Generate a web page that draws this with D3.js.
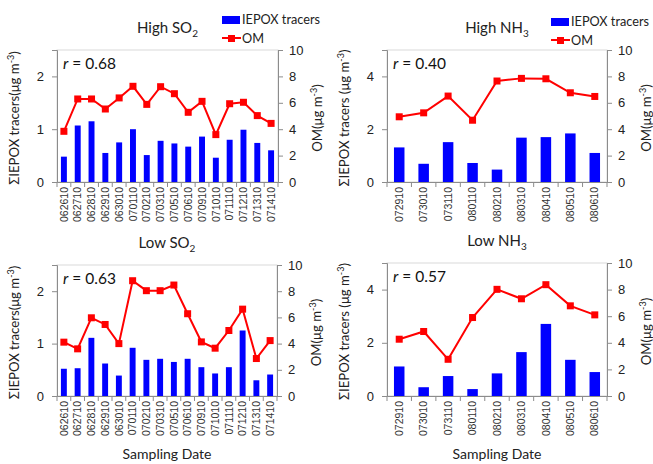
<!DOCTYPE html>
<html>
<head>
<meta charset="utf-8">
<script src="https://cdn.jsdelivr.net/npm/d3@7"></script>
<style>
  html, body { margin: 0; padding: 0; background: #fff; }
  svg { display: block; font-family: Lato, "Noto Sans", sans-serif; }
</style>
</head>
<body>
<svg id="chart" width="653" height="464"></svg>
<script>
// ---- data ----
const datesSO2 = ["062610","062710","062810","062910","063010","070110","070210","070310","070510","070610","070910","071010","071110","071210","071310","071410"];
const datesNH3 = ["072910","073010","073110","080110","080210","080310","080410","080510","080610"];

const highSO2Iepox = [0.48,1.07,1.15,0.55,0.75,1.00,0.51,0.78,0.73,0.67,0.86,0.46,0.80,0.99,0.74,0.60];
const highSO2OM    = [3.84,6.29,6.29,5.53,6.37,7.25,5.88,7.22,6.69,5.28,6.11,3.59,5.93,6.04,5.03,4.44];
const lowSO2Iepox  = [0.52,0.53,1.11,0.62,0.39,0.92,0.69,0.71,0.65,0.71,0.55,0.43,0.55,1.25,0.30,0.41];
const lowSO2OM     = [4.11,3.60,5.97,5.46,4.00,8.80,8.04,8.04,8.47,6.28,4.13,3.65,5.00,6.63,2.86,4.23];
const highNH3Iepox = [1.31,0.69,1.51,0.72,0.47,1.68,1.70,1.84,1.10];
const highNH3OM    = [4.94,5.24,6.51,4.68,7.65,7.85,7.82,6.76,6.48];
const lowNH3Iepox  = [1.11,0.33,0.75,0.26,0.85,1.65,2.71,1.36,0.90];
const lowNH3OM     = [4.27,4.85,2.76,5.90,8.02,7.31,8.37,6.78,6.10];

const so2Ticks = [0, 1, 2];
const nh3Ticks = [0, 2, 4];
const omTicks  = [0, 2, 4, 6, 8, 10];

const panels = [
  { title: "High SO", sub: "2", r: "0.68", cats: datesSO2, bars: highSO2Iepox, om: highSO2OM, yMax: 2.5, yTicks: so2Ticks,
    x0: 57, x1: 278, y0: 50, y1: 182, legend: true, legY: 0, yLabelSpace: "", xLabel: false, titleY: 33 },
  { title: "High NH", sub: "3", r: "0.40", cats: datesNH3, bars: highNH3Iepox, om: highNH3OM, yMax: 5, yTicks: nh3Ticks,
    x0: 387, x1: 607, y0: 50, y1: 182, legend: true, legY: 2, yLabelSpace: " ", xLabel: false, titleY: 33 },
  { title: "Low SO", sub: "2", r: "0.63", cats: datesSO2, bars: lowSO2Iepox, om: lowSO2OM, yMax: 2.5, yTicks: so2Ticks,
    x0: 57, x1: 277, y0: 265, y1: 396, legend: false, legY: 0, yLabelSpace: "", xLabel: true, titleY: 248 },
  { title: "Low NH", sub: "3", r: "0.57", cats: datesNH3, bars: lowNH3Iepox, om: lowNH3OM, yMax: 5, yTicks: nh3Ticks,
    x0: 387, x1: 607, y0: 263, y1: 396, legend: false, legY: 0, yLabelSpace: " ", xLabel: true, titleY: 246 }
];

const svg = d3.select("#chart");
const textCol = "#222";
const axisCol = "#8c8c8c";
const gridCol = "#d9d9d9";

// shrink a text's font so that its length fits a target width
function fit(sel, target) {
  const n = sel.node();
  const len = n.getComputedTextLength();
  if (len > target) {
    const fs = parseFloat(sel.attr("font-size"));
    sel.attr("font-size", (fs * target / len).toFixed(2));
  }
  return sel;
}

panels.forEach(p => {
  const g = svg.append("g");
  const x = d3.scaleBand().domain(p.cats).range([p.x0, p.x1]).paddingInner(0.57).paddingOuter(0.285);
  const xb = d3.scaleBand().domain(p.cats).range([p.x0, p.x1]);
  const yL = d3.scaleLinear().domain([0, p.yMax]).range([p.y1, p.y0]);
  const yR = d3.scaleLinear().domain([0, 10]).range([p.y1, p.y0]);

  // plot border
  g.append("rect").attr("x", p.x0).attr("y", p.y0).attr("width", p.x1 - p.x0).attr("height", p.y1 - p.y0)
    .attr("fill", "none").attr("stroke", gridCol).attr("stroke-width", 1);

  // bars
  g.selectAll("rect.bar").data(p.bars).enter().append("rect")
    .attr("class", "bar")
    .attr("x", (d, i) => x(p.cats[i]))
    .attr("width", x.bandwidth())
    .attr("y", d => yL(d))
    .attr("height", d => yL(0) - yL(d))
    .attr("fill", "#0000ff");

  // OM line
  const line = d3.line().x((d, i) => xb(p.cats[i]) + xb.bandwidth() / 2).y(d => yR(d));
  g.append("path").datum(p.om).attr("d", line).attr("fill", "none").attr("stroke", "#ff0000").attr("stroke-width", 2);
  g.selectAll("rect.mk").data(p.om).enter().append("rect")
    .attr("class", "mk")
    .attr("x", (d, i) => xb(p.cats[i]) + xb.bandwidth() / 2 - 3.5)
    .attr("y", d => yR(d) - 3.5)
    .attr("width", 7).attr("height", 7).attr("fill", "#ff0000");

  // left axis
  const axL = d3.axisLeft(yL).tickValues(p.yTicks).tickSize(5).tickPadding(8).tickFormat(d3.format("d"));
  const gl = g.append("g").attr("transform", `translate(${p.x0},0)`).call(axL);
  // right axis
  const axR = d3.axisRight(yR).tickValues(omTicks).tickSize(5).tickPadding(6).tickFormat(d3.format("d"));
  const gr = g.append("g").attr("transform", `translate(${p.x1},0)`).call(axR);
  // bottom axis: ticks at category boundaries
  const axB = d3.axisBottom(xb).tickSize(0).tickPadding(5);
  const gb = g.append("g").attr("transform", `translate(0,${p.y1})`).call(axB);
  gb.selectAll(".tick text")
    .attr("transform", "rotate(-90)")
    .attr("text-anchor", "end")
    .attr("x", -5).attr("y", 0).attr("dy", "0.35em")
    .attr("font-size", 10.5).attr("fill", "#333");
  const bounds = p.cats.map(c => xb(c)).concat([p.x1]);
  g.selectAll("line.bt").data(bounds).enter().append("line")
    .attr("x1", d => d).attr("x2", d => d).attr("y1", p.y1).attr("y2", p.y1 + 5)
    .attr("stroke", axisCol);

  [gl, gr, gb].forEach(a => {
    a.select(".domain").attr("stroke", axisCol);
    a.selectAll(".tick line").attr("stroke", axisCol);
  });
  [gl, gr].forEach(a => a.selectAll(".tick text").attr("font-size", 13).attr("fill", textCol));

  // r label
  const rt = g.append("text").attr("x", p.x0 + 6).attr("y", p.y0 + 19).attr("font-size", 15.5).attr("fill", "#111");
  rt.append("tspan").attr("font-style", "italic").text("r");
  rt.append("tspan").text(" = " + p.r);

  // title
  const cx = (p.x0 + p.x1) / 2;
  const tt = g.append("text").attr("x", cx).attr("y", p.titleY).attr("text-anchor", "middle").attr("font-size", 15).attr("fill", textCol);
  tt.append("tspan").text(p.title);
  tt.append("tspan").attr("dy", 4).attr("font-size", 10).text(p.sub);

  // left y label
  const cy = (p.y0 + p.y1) / 2 + 2;
  const yl = g.append("text").attr("transform", `translate(${p.x0 - 38},${cy}) rotate(-90)`)
    .attr("text-anchor", "middle").attr("font-size", 13.2).attr("fill", textCol);
  yl.append("tspan").text("ΣIEPOX tracers" + p.yLabelSpace + "(μg m");
  yl.append("tspan").attr("dy", -5).attr("font-size", 9).text("-3");
  yl.append("tspan").attr("dy", 5).text(")");

  // right y label
  const yr = g.append("text").attr("transform", `translate(${p.x1 + 44},${cy}) rotate(-90)`)
    .attr("text-anchor", "middle").attr("font-size", 13.2).attr("fill", textCol);
  yr.append("tspan").text("OM(μg m");
  yr.append("tspan").attr("dy", -5).attr("font-size", 9).text("-3");
  yr.append("tspan").attr("dy", 5).text(")");

  // x label
  if (p.xLabel) {
    g.append("text").attr("x", cx).attr("y", 459).attr("text-anchor", "middle")
      .attr("font-size", 14).attr("fill", textCol).text("Sampling Date");
  }

  // legend
  if (p.legend) {
    const lx = p.x1 - 56;
    const ly = p.legY;
    g.append("rect").attr("x", lx).attr("y", 16 + ly).attr("width", 18).attr("height", 8).attr("fill", "#0000ff");
    const lt = g.append("text").attr("x", lx + 20).attr("y", 24 + ly).attr("font-size", 14).attr("fill", textCol).text("IEPOX tracers");
    fit(lt, 78);
    g.append("line").attr("x1", lx).attr("x2", lx + 19).attr("y1", 38 + ly).attr("y2", 38 + ly).attr("stroke", "#ff0000").attr("stroke-width", 2);
    g.append("rect").attr("x", lx + 6).attr("y", 35 + ly).attr("width", 7).attr("height", 7).attr("fill", "#ff0000");
    g.append("text").attr("x", lx + 20).attr("y", 43 + ly).attr("font-size", lt.attr("font-size")).attr("fill", textCol).text("OM");
  }
});
</script>
</body>
</html>
